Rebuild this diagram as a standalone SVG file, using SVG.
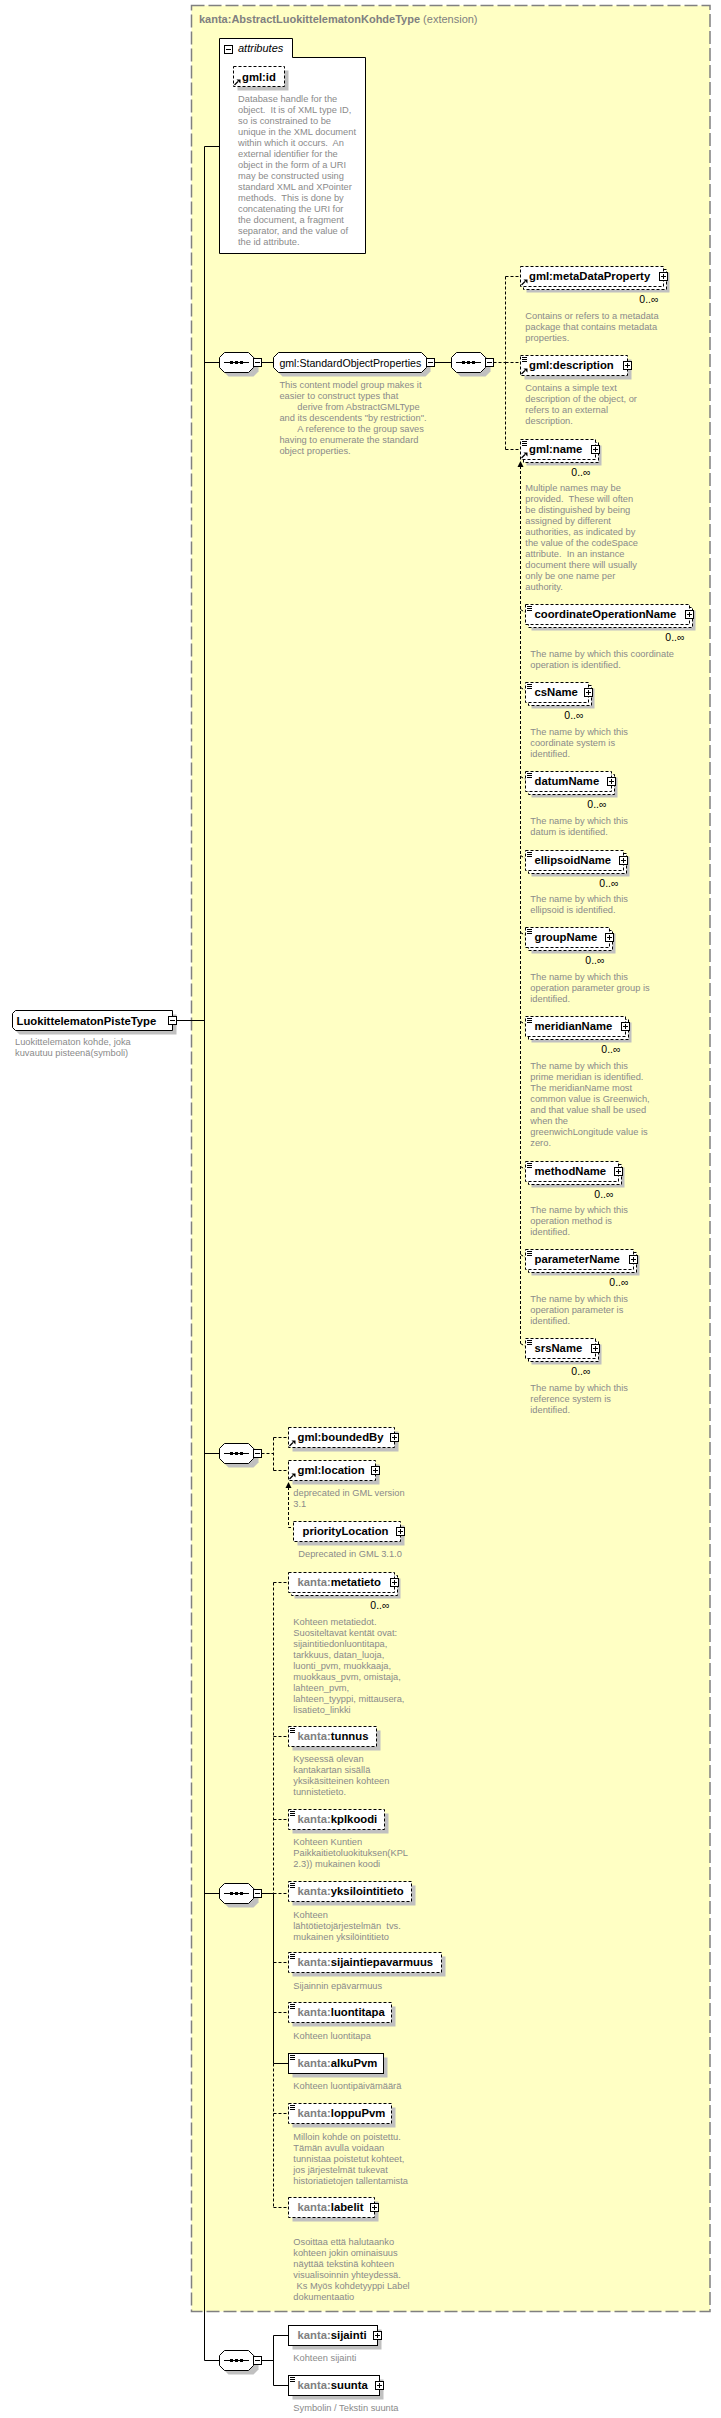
<svg xmlns="http://www.w3.org/2000/svg" width="721" height="2418" viewBox="0 0 721 2418">
<style>
text{font-family:"Liberation Sans",Arial,sans-serif}
.d{font-size:9.3px;fill:#8a8a8a}
.n{font-size:11.3px;font-weight:bold;fill:#000}
.p{fill:#808080}
.c{font-size:10.5px;fill:#000}
.b{fill:#fff;stroke:#000}
.db{fill:#fff;stroke:#000;stroke-dasharray:3 2}
.s{fill:#c0c0c0}
.l{fill:none;stroke:#000}
.dl{fill:none;stroke:#000;stroke-dasharray:3 2}
</style>
<defs>
<g id="plus"><rect x="0.5" y="0.5" width="8" height="8" fill="#fff" stroke="#000"/><path d="M2,4.5H7M4.5,2V7" stroke="#000"/></g>
<g id="minus"><rect x="0.5" y="0.5" width="8" height="8" fill="#fff" stroke="#000"/><path d="M2,4.5H7" stroke="#000"/></g>
<g id="sc"><path d="M2,2.5H7M2,4.5H7M2,6.5H7" stroke="#000"/></g>
<g id="ref"><path d="M1.5,19 L5,15.5" stroke="#000" stroke-width="1.2"/><path d="M3.5,13.5H7.5V17.5Z" fill="#000"/></g>
<g id="seq"><path class="s" d="M9.5,4.5H34.5L39.5,9.5V19.5L34.5,24.5H9.5L4.5,19.5V9.5Z"/><path d="M5.5,0.5H29.5L34.5,5.5V15.5L29.5,20.5H5.5L0.5,15.5V5.5Z" fill="#fff" stroke="#000"/><path d="M5,10.5H30" stroke="#000"/><rect x="11" y="9" width="3" height="3"/><rect x="16" y="9" width="3" height="3"/><rect x="21" y="9" width="3" height="3"/></g>
</defs>
<rect x="0" y="0" width="721" height="2418" fill="#fff"/>

<g id="extension">
<rect x="191.5" y="5.5" width="518.5" height="2306" fill="#FFFFC4" stroke="#808080" stroke-width="1.5" stroke-dasharray="13 4"/>
<text x="199" y="22.5" font-size="11" font-weight="bold" fill="#808080">kanta:AbstractLuokittelematonKohdeType<tspan font-weight="normal"> (extension)</tspan></text>
</g>

<g id="connectors">
<path class="l" d="M176.5,1020.5H204.5M204.5,146.5V2360.5M204.5,146.5H219.5M204.5,362.5H219.5M261.5,362.5H273.5M434.5,362.5H451.5M204.5,1453.5H219.5M204.5,1893.5H219.5M204.5,2360.5H219.5M261.5,1893.5H273.5M273.5,1893.5V2063.5H288.5M261.5,2360.5H273.5M273.5,2335.5V2385.5M273.5,2335.5H288.5M273.5,2385.5H288.5"/>
<path class="dl" d="M493.5,362.5H505.5M505.5,276.5V449.5M505.5,276.5H520.5M505.5,362.5H520.5M505.5,449.5H520.5"/>
<path class="dl" d="M520.5,466V1343.5M520.5,609.5L525.5,612.5M520.5,687.5L525.5,690.5M520.5,776.5L525.5,779.5M520.5,855.5L525.5,858.5M520.5,932.5L525.5,935.5M520.5,1021.5L525.5,1024.5M520.5,1166.5L525.5,1169.5M520.5,1254.5L525.5,1257.5M520.5,1343.5L525.5,1346.5"/>
<path d="M520.5,461L517.5,467H523.5Z" fill="#000"/>
<path class="dl" d="M261.5,1453.5H273.5M273.5,1437.5V1470.5M273.5,1437.5H288.5M273.5,1470.5H288.5M288.5,1487V1527.5H293.5"/>
<path d="M288.5,1482L285.5,1488H291.5Z" fill="#000"/>
<path class="dl" d="M273.5,1582.5V1893.5M273.5,2063.5V2207.5M273.5,1582.5H288.5M273.5,1736.5H288.5M273.5,1819.5H288.5M273.5,1893.5H288.5M273.5,1962.5H288.5M273.5,2012.5H288.5M273.5,2113.5H288.5M273.5,2207.5H288.5"/>
</g>

<g id="LuokittelematonPisteType">
<path class="s" d="M19.5,1014.5H176.5V1034.5H19.5L16.5,1031.5V1017.5Z"/>
<path class="b" d="M15.5,1010.5H172.5V1030.5H15.5L12.5,1027.5V1013.5Z"/>
<text class="n" x="16.5" y="1024.5">LuokittelematonPisteType</text>
<use href="#minus" x="168" y="1016"/>
<text class="d" x="15" y="1045"><tspan x="15">Luokittelematon kohde, joka</tspan><tspan x="15" dy="11">kuvautuu pisteenä(symboli)</tspan></text>
</g>

<g id="attributes">
<path class="b" d="M219.5,253.5V38.5H292.5V57.5H365.5V253.5Z"/>
<use href="#minus" x="224" y="45"/>
<text x="238" y="52" font-size="11" font-style="italic" fill="#000">attributes</text>
</g>

<g id="gml_id">
<rect class="s" x="237.5" y="70.5" width="51" height="20"/>
<rect class="db" x="233.5" y="66.5" width="51" height="20"/>
<use href="#ref" x="233" y="66"/>
<text class="n" x="242" y="80.5">gml:id</text>
<text class="d" xml:space="preserve" x="238" y="102"><tspan x="238">Database handle for the</tspan><tspan x="238" dy="11">object.  It is of XML type ID,</tspan><tspan x="238" dy="11">so is constrained to be</tspan><tspan x="238" dy="11">unique in the XML document</tspan><tspan x="238" dy="11">within which it occurs.  An</tspan><tspan x="238" dy="11">external identifier for the</tspan><tspan x="238" dy="11">object in the form of a URI</tspan><tspan x="238" dy="11">may be constructed using</tspan><tspan x="238" dy="11">standard XML and XPointer</tspan><tspan x="238" dy="11">methods.  This is done by</tspan><tspan x="238" dy="11">concatenating the URI for</tspan><tspan x="238" dy="11">the document, a fragment</tspan><tspan x="238" dy="11">separator, and the value of</tspan><tspan x="238" dy="11">the id attribute.</tspan></text>
</g>

<g id="seq1"><use href="#seq" x="219" y="352"/><use href="#minus" x="253" y="358"/></g>

<g id="StandardObjectProperties">
<path class="s" d="M282.5,356.5H425.5L430.5,361.5V371.5L425.5,376.5H282.5L277.5,371.5V361.5Z"/>
<path class="b" d="M278.5,352.5H421.5L426.5,357.5V367.5L421.5,372.5H278.5L273.5,367.5V357.5Z"/>
<text x="279.4" y="366.5" font-size="10.6" fill="#000">gml:StandardObjectProperties</text>
<use href="#minus" x="426" y="358"/>
<text class="d" x="279.4" y="388"><tspan x="279.4">This content model group makes it</tspan><tspan x="279.4" dy="11">easier to construct types that</tspan><tspan x="297.3" dy="11">derive from AbstractGMLType</tspan><tspan x="279.4" dy="11">and its descendents "by restriction".</tspan><tspan x="297.3" dy="11">A reference to the group saves</tspan><tspan x="279.4" dy="11">having to enumerate the standard</tspan><tspan x="279.4" dy="11">object properties.</tspan></text>
</g>

<g id="seq1b"><use href="#seq" x="451" y="352"/><use href="#minus" x="485" y="358"/></g>

<g id="metaDataProperty">
<rect class="s" x="526.5" y="272.5" width="143" height="20"/>
<rect class="db" x="523.5" y="269.5" width="143" height="20"/>
<rect class="db" x="520.5" y="266.5" width="143" height="20"/>
<use href="#ref" x="520" y="266"/>
<text class="n" x="529" y="280">gml:metaDataProperty</text>
<use href="#plus" x="659" y="272"/>
<text class="c" x="658.5" y="303" text-anchor="end">0..∞</text>
<text class="d" x="525.3" y="319"><tspan x="525.3">Contains or refers to a metadata</tspan><tspan x="525.3" dy="11">package that contains metadata</tspan><tspan x="525.3" dy="11">properties.</tspan></text>
</g>

<g id="description">
<rect class="s" x="524.5" y="359.5" width="107" height="20"/>
<rect class="db" x="520.5" y="355.5" width="107" height="20"/>
<use href="#sc" x="520" y="355"/>
<use href="#ref" x="520" y="355"/>
<text class="n" x="529" y="369">gml:description</text>
<use href="#plus" x="623" y="361"/>
<text class="d" x="525.3" y="391"><tspan x="525.3">Contains a simple text</tspan><tspan x="525.3" dy="11">description of the object, or</tspan><tspan x="525.3" dy="11">refers to an external</tspan><tspan x="525.3" dy="11">description.</tspan></text>
</g>

<g id="name">
<rect class="s" x="526.5" y="445.5" width="75" height="20"/>
<rect class="db" x="523.5" y="442.5" width="75" height="20"/>
<rect class="db" x="520.5" y="439.5" width="75" height="20"/>
<use href="#sc" x="520" y="439"/>
<use href="#ref" x="520" y="439"/>
<text class="n" x="529" y="453">gml:name</text>
<use href="#plus" x="591" y="445"/>
<text class="c" x="590.5" y="476" text-anchor="end">0..∞</text>
<text class="d" xml:space="preserve" x="525.3" y="491"><tspan x="525.3">Multiple names may be</tspan><tspan x="525.3" dy="11">provided.  These will often</tspan><tspan x="525.3" dy="11">be distinguished by being</tspan><tspan x="525.3" dy="11">assigned by different</tspan><tspan x="525.3" dy="11">authorities, as indicated by</tspan><tspan x="525.3" dy="11">the value of the codeSpace</tspan><tspan x="525.3" dy="11">attribute.  In an instance</tspan><tspan x="525.3" dy="11">document there will usually</tspan><tspan x="525.3" dy="11">only be one name per</tspan><tspan x="525.3" dy="11">authority.</tspan></text>
</g>

<g id="coordinateOperationName">
<rect class="s" x="531.5" y="610.5" width="164" height="20"/>
<rect class="db" x="528.5" y="607.5" width="164" height="20"/>
<rect class="db" x="525.5" y="604.5" width="164" height="20"/>
<use href="#sc" x="525" y="604"/>
<text class="n" x="534.5" y="618">coordinateOperationName</text>
<use href="#plus" x="685" y="610"/>
<text class="c" x="684.5" y="641" text-anchor="end">0..∞</text>
<text class="d" x="530.3" y="657"><tspan x="530.3">The name by which this coordinate</tspan><tspan x="530.3" dy="11">operation is identified.</tspan></text>
</g>

<g id="csName">
<rect class="s" x="531.5" y="688.5" width="63" height="20"/>
<rect class="db" x="528.5" y="685.5" width="63" height="20"/>
<rect class="db" x="525.5" y="682.5" width="63" height="20"/>
<use href="#sc" x="525" y="682"/>
<text class="n" x="534.5" y="696">csName</text>
<use href="#plus" x="584" y="688"/>
<text class="c" x="583.5" y="719" text-anchor="end">0..∞</text>
<text class="d" x="530.3" y="735"><tspan x="530.3">The name by which this</tspan><tspan x="530.3" dy="11">coordinate system is</tspan><tspan x="530.3" dy="11">identified.</tspan></text>
</g>

<g id="datumName">
<rect class="s" x="531.5" y="777.5" width="86" height="20"/>
<rect class="db" x="528.5" y="774.5" width="86" height="20"/>
<rect class="db" x="525.5" y="771.5" width="86" height="20"/>
<use href="#sc" x="525" y="771"/>
<text class="n" x="534.5" y="785">datumName</text>
<use href="#plus" x="607" y="777"/>
<text class="c" x="606.5" y="808" text-anchor="end">0..∞</text>
<text class="d" x="530.3" y="824"><tspan x="530.3">The name by which this</tspan><tspan x="530.3" dy="11">datum is identified.</tspan></text>
</g>

<g id="ellipsoidName">
<rect class="s" x="531.5" y="856.5" width="98" height="20"/>
<rect class="db" x="528.5" y="853.5" width="98" height="20"/>
<rect class="db" x="525.5" y="850.5" width="98" height="20"/>
<use href="#sc" x="525" y="850"/>
<text class="n" x="534.5" y="864">ellipsoidName</text>
<use href="#plus" x="619" y="856"/>
<text class="c" x="618.5" y="887" text-anchor="end">0..∞</text>
<text class="d" x="530.3" y="902"><tspan x="530.3">The name by which this</tspan><tspan x="530.3" dy="11">ellipsoid is identified.</tspan></text>
</g>

<g id="groupName">
<rect class="s" x="531.5" y="933.5" width="84" height="20"/>
<rect class="db" x="528.5" y="930.5" width="84" height="20"/>
<rect class="db" x="525.5" y="927.5" width="84" height="20"/>
<use href="#sc" x="525" y="927"/>
<text class="n" x="534.5" y="941">groupName</text>
<use href="#plus" x="605" y="933"/>
<text class="c" x="604.5" y="964" text-anchor="end">0..∞</text>
<text class="d" x="530.3" y="980"><tspan x="530.3">The name by which this</tspan><tspan x="530.3" dy="11">operation parameter group is</tspan><tspan x="530.3" dy="11">identified.</tspan></text>
</g>

<g id="meridianName">
<rect class="s" x="531.5" y="1022.5" width="100" height="20"/>
<rect class="db" x="528.5" y="1019.5" width="100" height="20"/>
<rect class="db" x="525.5" y="1016.5" width="100" height="20"/>
<use href="#sc" x="525" y="1016"/>
<text class="n" x="534.5" y="1030">meridianName</text>
<use href="#plus" x="621" y="1022"/>
<text class="c" x="620.5" y="1053" text-anchor="end">0..∞</text>
<text class="d" x="530.3" y="1069"><tspan x="530.3">The name by which this</tspan><tspan x="530.3" dy="11">prime meridian is identified.</tspan><tspan x="530.3" dy="11">The meridianName most</tspan><tspan x="530.3" dy="11">common value is Greenwich,</tspan><tspan x="530.3" dy="11">and that value shall be used</tspan><tspan x="530.3" dy="11">when the</tspan><tspan x="530.3" dy="11">greenwichLongitude value is</tspan><tspan x="530.3" dy="11">zero.</tspan></text>
</g>

<g id="methodName">
<rect class="s" x="531.5" y="1167.5" width="93" height="20"/>
<rect class="db" x="528.5" y="1164.5" width="93" height="20"/>
<rect class="db" x="525.5" y="1161.5" width="93" height="20"/>
<use href="#sc" x="525" y="1161"/>
<text class="n" x="534.5" y="1175">methodName</text>
<use href="#plus" x="614" y="1167"/>
<text class="c" x="613.5" y="1198" text-anchor="end">0..∞</text>
<text class="d" x="530.3" y="1213"><tspan x="530.3">The name by which this</tspan><tspan x="530.3" dy="11">operation method is</tspan><tspan x="530.3" dy="11">identified.</tspan></text>
</g>

<g id="parameterName">
<rect class="s" x="531.5" y="1255.5" width="108" height="20"/>
<rect class="db" x="528.5" y="1252.5" width="108" height="20"/>
<rect class="db" x="525.5" y="1249.5" width="108" height="20"/>
<use href="#sc" x="525" y="1249"/>
<text class="n" x="534.5" y="1263">parameterName</text>
<use href="#plus" x="629" y="1255"/>
<text class="c" x="628.5" y="1286" text-anchor="end">0..∞</text>
<text class="d" x="530.3" y="1302"><tspan x="530.3">The name by which this</tspan><tspan x="530.3" dy="11">operation parameter is</tspan><tspan x="530.3" dy="11">identified.</tspan></text>
</g>

<g id="srsName">
<rect class="s" x="531.5" y="1344.5" width="70" height="20"/>
<rect class="db" x="528.5" y="1341.5" width="70" height="20"/>
<rect class="db" x="525.5" y="1338.5" width="70" height="20"/>
<use href="#sc" x="525" y="1338"/>
<text class="n" x="534.5" y="1352">srsName</text>
<use href="#plus" x="591" y="1344"/>
<text class="c" x="590.5" y="1375" text-anchor="end">0..∞</text>
<text class="d" x="530.3" y="1391"><tspan x="530.3">The name by which this</tspan><tspan x="530.3" dy="11">reference system is</tspan><tspan x="530.3" dy="11">identified.</tspan></text>
</g>

<g id="seq2"><use href="#seq" x="219" y="1443"/><use href="#minus" x="253" y="1449"/></g>

<g id="boundedBy">
<rect class="s" x="292.5" y="1431.5" width="106" height="20"/>
<rect class="db" x="288.5" y="1427.5" width="106" height="20"/>
<use href="#ref" x="288" y="1427"/>
<text class="n" x="297.5" y="1441">gml:boundedBy</text>
<use href="#plus" x="390" y="1433"/>
</g>

<g id="location">
<rect class="s" x="292.5" y="1464.5" width="87" height="20"/>
<rect class="db" x="288.5" y="1460.5" width="87" height="20"/>
<use href="#ref" x="288" y="1460"/>
<text class="n" x="297.5" y="1474">gml:location</text>
<use href="#plus" x="371" y="1466"/>
<text class="d" x="293.3" y="1495.5"><tspan x="293.3">deprecated in GML version</tspan><tspan x="293.3" dy="11">3.1</tspan></text>
</g>

<g id="priorityLocation">
<rect class="s" x="297.5" y="1525.5" width="107" height="20"/>
<rect class="db" x="293.5" y="1521.5" width="107" height="20"/>
<text class="n" x="302.5" y="1535">priorityLocation</text>
<use href="#plus" x="396" y="1527"/>
<text class="d" x="298.3" y="1557">Deprecated in GML 3.1.0</text>
</g>

<g id="seq3"><use href="#seq" x="219" y="1883"/><use href="#minus" x="253" y="1889"/></g>

<g id="metatieto">
<rect class="s" x="294.5" y="1578.5" width="106" height="20"/>
<rect class="db" x="291.5" y="1575.5" width="106" height="20"/>
<rect class="db" x="288.5" y="1572.5" width="106" height="20"/>
<text class="n" x="297.5" y="1586"><tspan class="p">kanta:</tspan>metatieto</text>
<use href="#plus" x="390" y="1578"/>
<text class="c" x="389.5" y="1609" text-anchor="end">0..∞</text>
<text class="d" x="293.3" y="1625"><tspan x="293.3">Kohteen metatiedot.</tspan><tspan x="293.3" dy="11">Suositeltavat kentät ovat:</tspan><tspan x="293.3" dy="11">sijaintitiedonluontitapa,</tspan><tspan x="293.3" dy="11">tarkkuus, datan_luoja,</tspan><tspan x="293.3" dy="11">luonti_pvm, muokkaaja,</tspan><tspan x="293.3" dy="11">muokkaus_pvm, omistaja,</tspan><tspan x="293.3" dy="11">lahteen_pvm,</tspan><tspan x="293.3" dy="11">lahteen_tyyppi, mittausera,</tspan><tspan x="293.3" dy="11">lisatieto_linkki</tspan></text>
</g>

<g id="tunnus">
<rect class="s" x="292.5" y="1730.5" width="88" height="20"/>
<rect class="db" x="288.5" y="1726.5" width="88" height="20"/>
<use href="#sc" x="288" y="1726"/>
<text class="n" x="297.5" y="1740"><tspan class="p">kanta:</tspan>tunnus</text>
<text class="d" x="293.3" y="1762"><tspan x="293.3">Kyseessä olevan</tspan><tspan x="293.3" dy="11">kantakartan sisällä</tspan><tspan x="293.3" dy="11">yksikäsitteinen kohteen</tspan><tspan x="293.3" dy="11">tunnistetieto.</tspan></text>
</g>

<g id="kplkoodi">
<rect class="s" x="292.5" y="1813.5" width="96" height="20"/>
<rect class="db" x="288.5" y="1809.5" width="96" height="20"/>
<use href="#sc" x="288" y="1809"/>
<text class="n" x="297.5" y="1823"><tspan class="p">kanta:</tspan>kplkoodi</text>
<text class="d" x="293.3" y="1845"><tspan x="293.3">Kohteen Kuntien</tspan><tspan x="293.3" dy="11">Paikkaitietoluokituksen(KPL</tspan><tspan x="293.3" dy="11">2.3)) mukainen koodi</tspan></text>
</g>

<g id="yksilointitieto">
<rect class="s" x="292.5" y="1885.5" width="123" height="20"/>
<rect class="db" x="288.5" y="1881.5" width="123" height="20"/>
<use href="#sc" x="288" y="1881"/>
<text class="n" x="297.5" y="1895"><tspan class="p">kanta:</tspan>yksilointitieto</text>
<text class="d" xml:space="preserve" x="293.3" y="1917.5"><tspan x="293.3">Kohteen</tspan><tspan x="293.3" dy="11">lähtötietojärjestelmän  tvs.</tspan><tspan x="293.3" dy="11">mukainen yksilöintitieto</tspan></text>
</g>

<g id="sijaintiepavarmuus">
<rect class="s" x="292.5" y="1956.5" width="153" height="20"/>
<rect class="db" x="288.5" y="1952.5" width="153" height="20"/>
<use href="#sc" x="288" y="1952"/>
<text class="n" x="297.5" y="1966"><tspan class="p">kanta:</tspan>sijaintiepavarmuus</text>
<text class="d" x="293.3" y="1989">Sijainnin epävarmuus</text>
</g>

<g id="luontitapa">
<rect class="s" x="292.5" y="2006.5" width="103" height="20"/>
<rect class="db" x="288.5" y="2002.5" width="103" height="20"/>
<use href="#sc" x="288" y="2002"/>
<text class="n" x="297.5" y="2016"><tspan class="p">kanta:</tspan>luontitapa</text>
<text class="d" x="293.3" y="2039">Kohteen luontitapa</text>
</g>

<g id="alkuPvm">
<rect class="s" x="292.5" y="2057.5" width="95" height="20"/>
<rect class="b" x="288.5" y="2053.5" width="95" height="20"/>
<use href="#sc" x="288" y="2053"/>
<text class="n" x="297.5" y="2067"><tspan class="p">kanta:</tspan>alkuPvm</text>
<text class="d" x="293.3" y="2089">Kohteen luontipäivämäärä</text>
</g>

<g id="loppuPvm">
<rect class="s" x="292.5" y="2107.5" width="103" height="20"/>
<rect class="db" x="288.5" y="2103.5" width="103" height="20"/>
<use href="#sc" x="288" y="2103"/>
<text class="n" x="297.5" y="2117"><tspan class="p">kanta:</tspan>loppuPvm</text>
<text class="d" x="293.3" y="2140"><tspan x="293.3">Milloin kohde on poistettu.</tspan><tspan x="293.3" dy="11">Tämän avulla voidaan</tspan><tspan x="293.3" dy="11">tunnistaa poistetut kohteet,</tspan><tspan x="293.3" dy="11">jos järjestelmät tukevat</tspan><tspan x="293.3" dy="11">historiatietojen tallentamista</tspan></text>
</g>

<g id="labelit">
<rect class="s" x="292.5" y="2201.5" width="86" height="20"/>
<rect class="db" x="288.5" y="2197.5" width="86" height="20"/>
<text class="n" x="297.5" y="2211"><tspan class="p">kanta:</tspan>labelit</text>
<use href="#plus" x="370" y="2203"/>
<text class="d" x="293.3" y="2244.5"><tspan x="293.3">Osoittaa että halutaanko</tspan><tspan x="293.3" dy="11">kohteen jokin ominaisuus</tspan><tspan x="293.3" dy="11">näyttää tekstinä kohteen</tspan><tspan x="293.3" dy="11">visualisoinnin yhteydessä.</tspan><tspan x="296.5" dy="11">Ks Myös kohdetyyppi Label</tspan><tspan x="293.3" dy="11">dokumentaatio</tspan></text>
</g>

<g id="seq4"><use href="#seq" x="219" y="2350"/><use href="#minus" x="253" y="2356"/></g>

<g id="sijainti">
<rect class="s" x="292.5" y="2329.5" width="89" height="20"/>
<rect class="b" x="288.5" y="2325.5" width="89" height="20"/>
<text class="n" x="297.5" y="2339"><tspan class="p">kanta:</tspan>sijainti</text>
<use href="#plus" x="373" y="2331"/>
<text class="d" x="293.3" y="2361">Kohteen sijainti</text>
</g>

<g id="suunta">
<rect class="s" x="292.5" y="2379.5" width="91" height="20"/>
<rect class="b" x="288.5" y="2375.5" width="91" height="20"/>
<use href="#sc" x="288" y="2375"/>
<text class="n" x="297.5" y="2389"><tspan class="p">kanta:</tspan>suunta</text>
<use href="#plus" x="375" y="2381"/>
<text class="d" x="293.3" y="2411">Symbolin / Tekstin suunta</text>
</g>
</svg>
